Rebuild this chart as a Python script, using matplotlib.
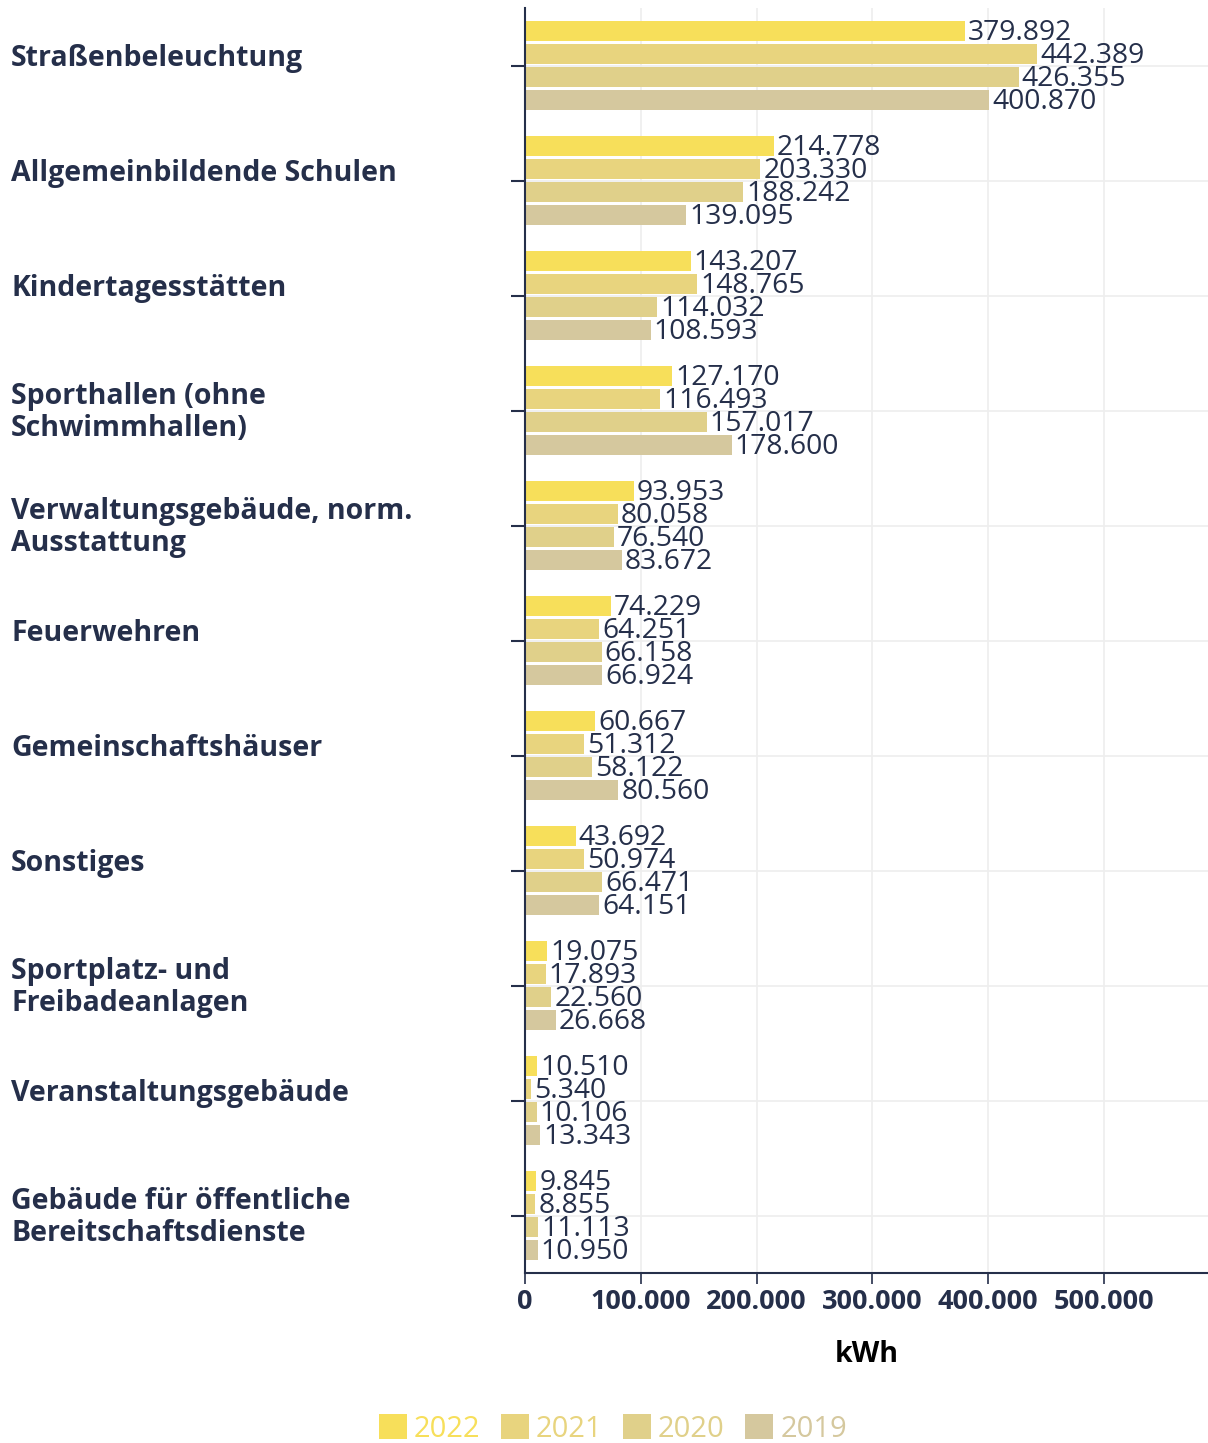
"""Stromverbrauch nach Gebäudekategorie, horizontale Balken 2019-2022."""
import numpy as np
import matplotlib.pyplot as plt
from matplotlib.patches import Patch

plt.rcParams['font.family'] = ['Open Sans', 'DejaVu Sans']

categories = [
	"Straßenbeleuchtung",
	"Allgemeinbildende Schulen",
	"Kindertagesstätten",
	"Sporthallen (ohne\nSchwimmhallen)",
	"Verwaltungsgebäude, norm.\nAusstattung",
	"Feuerwehren",
	"Gemeinschaftshäuser",
	"Sonstiges",
	"Sportplatz- und\nFreibadeanlagen",
	"Veranstaltungsgebäude",
	"Gebäude für öffentliche\nBereitschaftsdienste",
]
years = ["2022", "2021", "2020", "2019"]
v2022 = [379892, 214778, 143207, 127170, 93953, 74229, 60667, 43692, 19075, 10510, 9845]
v2021 = [442389, 203330, 148765, 116493, 80058, 64251, 51312, 50974, 17893, 5340, 8855]
v2020 = [426355, 188242, 114032, 157017, 76540, 66158, 58122, 66471, 22560, 10106, 11113]
v2019 = [400870, 139095, 108593, 178600, 83672, 66924, 80560, 64151, 26668, 13343, 10950]
series = [v2022, v2021, v2020, v2019]
colors = ["#f7df5a", "#e8d47e", "#e0d08a", "#d5c89e"]
xticks = [0, 100000, 200000, 300000, 400000, 500000]

navy = "#252f4a"


def de_fmt(v):
	# German thousands separator
	return f"{int(v):,}".replace(",", ".")


fig = plt.figure(figsize=(12.08, 14.43), dpi=100)
ax = fig.add_axes([525 / 1208, 1 - 1273 / 1443, 683 / 1208, 1265 / 1443])

y = np.arange(len(categories))
offsets = [-0.3, -0.1, 0.1, 0.3]
for vals, off, col in zip(series, offsets, colors):
	bars = ax.barh(y + off, vals, height=0.17, color=col, zorder=2)
	for b, v in zip(bars, vals):
		ax.annotate(de_fmt(v), xy=(b.get_width(), b.get_y() + b.get_height() / 2),
			xytext=(2.2, -1.3), textcoords='offset points',
			va='center', ha='left', fontsize=20.3, color=navy, zorder=3)

ax.set_ylim(len(categories) - 0.5, -0.5)
ax.set_xlim(0, 590000)
ax.set_xticks(xticks)
ax.set_xticklabels([de_fmt(t) for t in xticks], fontsize=19.5, fontweight='bold', color=navy)
ax.set_yticks(y)
ax.set_yticklabels([])
ax.tick_params(axis='y', length=10, width=1.5, color=navy)
ax.tick_params(axis='x', length=8, width=1.2, color=navy, pad=3.5)
ax.grid(True, color="#eeeeee", linewidth=1.2, zorder=0)
ax.set_axisbelow(True)
for s in ['top', 'right']:
	ax.spines[s].set_visible(False)
for s in ['left', 'bottom']:
	ax.spines[s].set_color(navy)
	ax.spines[s].set_linewidth(1.5)

ax.set_xlabel("kWh", fontsize=20.5, fontweight='bold', color='black', labelpad=18)

# category labels on the left, single-line ones sit a little higher
for i, cat in enumerate(categories):
	dy = -2 if "\n" in cat else 7
	ax.annotate(cat, xy=(11 / 1208, i), xycoords=('figure fraction', 'data'),
		xytext=(0, dy * 0.72), textcoords='offset points',
		ha='left', va='center', fontsize=20.5, fontweight='bold', color=navy,
		linespacing=1.1)

handles = [Patch(facecolor=c, edgecolor='none') for c in colors]
leg = fig.legend(handles, years, loc='center', bbox_to_anchor=(613 / 1208, 1 - 1429 / 1443),
	ncol=4, frameon=False, fontsize=21, handlelength=0.95, handleheight=0.95,
	handletextpad=0.25, columnspacing=0.7, borderpad=0)
for txt, c in zip(leg.get_texts(), colors):
	txt.set_color(c)

fig.savefig("out.png", dpi=100)
